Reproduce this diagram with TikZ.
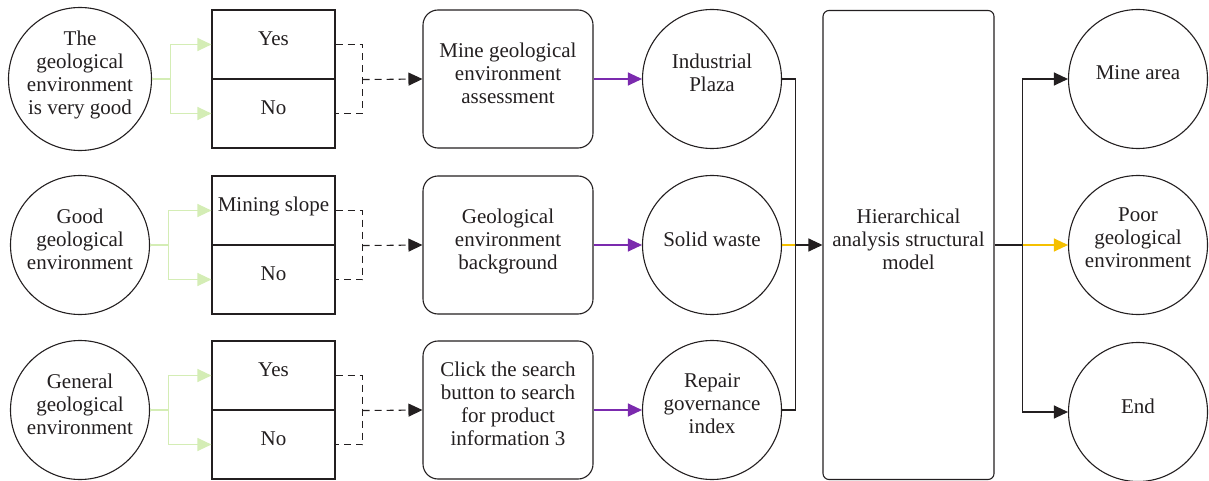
\documentclass[tikz,border=0pt]{standalone}
\usepackage{fontspec}
\setmainfont{Liberation Serif}
\usetikzlibrary{arrows.meta,calc}
\definecolor{txt}{HTML}{231F20}
\definecolor{lgreen}{HTML}{D4EDB5}
\definecolor{purp}{HTML}{7B2AAE}
\definecolor{yel}{HTML}{F5C000}
\newcommand{\up}{\\[-11pt]}
\begin{document}
\begin{tikzpicture}[x=1pt,y=-1pt,
  font=\fontsize{21}{23}\selectfont, color=txt, line width=1.1pt,
  circ/.style={circle, draw, minimum size=139pt, inner sep=0pt, align=center},
  half/.style={rectangle, draw, minimum width=123pt, minimum height=69pt, inner sep=0pt, align=center},
  rbox/.style={rectangle, rounded corners=15pt, draw, minimum width=170pt, minimum height=138pt, inner sep=0pt, align=center},
  arr/.style={-{Triangle[length=14pt,width=13pt]}},
  garr/.style={draw=lgreen, -{Triangle[length=14pt,width=13pt,fill=lgreen]}},
  dsh/.style={dash pattern=on 7pt off 5pt}
]
\useasboundingbox (0,0) rectangle (1209,481);
% left circles
\node[circ] (c1) at (80,79) {The\\geological\\environment\\is very good\up};
\node[circ] (c2) at (80,245) {Good\\geological\\environment\up};
\node[circ] (c3) at (80,410) {General\\geological\\environment\up};
% split boxes
\node[half] (y1) at (273.5,44.5) {Yes\up};
\node[half] (n1) at (273.5,113.5) {No\up};
\node[half] (y2) at (273.5,210.5) {Mining slope\up};
\node[half] (n2) at (273.5,279.5) {No\up};
\node[half] (y3) at (273.5,375.5) {Yes\up};
\node[half] (n3) at (273.5,444.5) {No\up};
% rounded boxes
\node[rbox] (r1) at (508,79) {Mine geological\\environment\\assessment\up};
\node[rbox] (r2) at (508,245) {Geological\\environment\\background\up};
\node[rbox] (r3) at (508,410) {Click the search\\button to search\\for product\\information 3\up};
% middle circles
\node[circ] (i1) at (712,79) {Industrial\\Plaza\up};
\node[circ] (i2) at (712,245) {Solid waste\up};
\node[circ] (i3) at (712,410) {Repair\\governance\\index\up};
% big box
\node[rectangle, rounded corners=6pt, draw, minimum width=171pt, minimum height=469pt, align=center, inner sep=0pt] (big) at (908.5,245) {Hierarchical\\analysis structural\\model\up};
% right circles
\node[circ] (o1) at (1138,79) {Mine area\up};
\node[circ] (o2) at (1138,245) {Poor\\geological\\environment\\[-9pt]};
\node[circ] (o3) at (1138,412) {End\up};
% green, dashed and purple connectors
\foreach \i in {1,2,3}{
  \draw[draw=lgreen] (c\i.east) -- ++(18,0) coordinate (g\i);
  \draw[garr] (g\i) |- (y\i.west);
  \draw[garr] (g\i) |- (n\i.west);
  \draw[dsh] (y\i.east) -- ++(27,0) |- (n\i.east);
  \draw[dsh, arr] ($(y\i.south east)+(27,0)$) -- (r\i.west);
  \draw[draw=purp, -{Triangle[length=14pt,width=13pt,fill=purp]}] (r\i) -- (i\i);
}
% collector to big box
\draw (i1.east) -- ++(13,0) |- (i3.east);
\draw[draw=yel] (i2.east) -- ++(13,0) coordinate (m2);
\draw[arr] (m2) -- (big.west);
% distribution
\draw (big.east) -- ++(28,0) coordinate (d2);
\draw[arr] (d2) |- (o1.west);
\draw[arr] (d2) |- (o3.west);
\draw[draw=yel, -{Triangle[length=14pt,width=13pt,fill=yel]}] (d2) -- (o2.west);
\end{tikzpicture}
\end{document}
